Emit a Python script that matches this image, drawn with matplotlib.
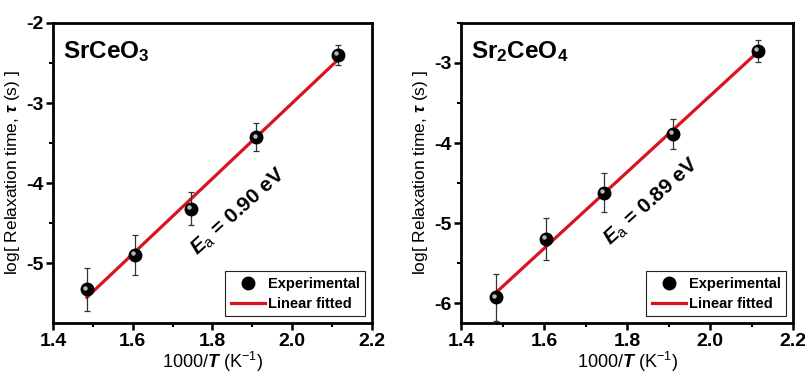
import numpy as np
import matplotlib
matplotlib.use("Agg")
import matplotlib.pyplot as plt
from matplotlib.lines import Line2D
from matplotlib.transforms import offset_copy

plt.rcParams['font.family'] = ['Liberation Sans', 'DejaVu Sans']
plt.rcParams['mathtext.fontset'] = 'custom'
plt.rcParams['mathtext.rm'] = 'Liberation Sans'
plt.rcParams['mathtext.it'] = 'Liberation Sans:italic:bold'
plt.rcParams['mathtext.bf'] = 'Liberation Sans:bold'
plt.rcParams['axes.unicode_minus'] = False

# 1000/T values (K^-1)
inv_temp = [1.485, 1.605, 1.745, 1.91, 2.115]

# log10 relaxation time and error bars
srceo3_tau = [-5.33, -4.90, -4.32, -3.43, -2.40]
srceo3_err = [0.27, 0.245, 0.21, 0.175, 0.13]
sr2ceo4_tau = [-5.93, -5.20, -4.62, -3.89, -2.85]
sr2ceo4_err = [0.29, 0.265, 0.24, 0.19, 0.14]

panel_names = [r'SrCeO$_\mathbf{3}$', r'Sr$_\mathbf{2}$CeO$_\mathbf{4}$']
ea_labels = [r'$E_\mathrm{a}$ = 0.90 eV', r'$E_\mathrm{a}$ = 0.89 eV']
ylims = [(-5.75, -2.0), (-6.25, -2.5)]
yticks = [[-5, -4, -3, -2], [-6, -5, -4, -3]]
ea_pos = [(1.865, -4.36), (1.86, -4.73)]

RED = '#d8141c'

fig = plt.figure(figsize=(8.05, 3.77), dpi=100)
axes = [fig.add_axes([0.0658, 0.1432, 0.3963, 0.7958]),
        fig.add_axes([0.5727, 0.1432, 0.4124, 0.7958])]

datasets = [(srceo3_tau, srceo3_err), (sr2ceo4_tau, sr2ceo4_err)]

for i, ax in enumerate(axes):
    y, err = datasets[i]
    x = np.array(inv_temp)
    y = np.array(y)

    # linear fit of log(tau) vs 1000/T
    k, b = np.polyfit(x, y, 1)
    xf = np.array([x.min(), x.max()])
    ax.plot(xf, k * xf + b, color=RED, lw=2.3, zorder=2)

    ax.errorbar(x, y, yerr=err, fmt='none', ecolor='#333333', elinewidth=0.9,
                capsize=2.5, capthick=0.9, zorder=3)
    ax.plot(x, y, 'o', color='black', ms=9, zorder=4)
    # small highlight for the shaded-ball look
    hl = offset_copy(ax.transData, fig=fig, x=-1.8, y=1.8, units='dots')
    ax.plot(x, y, 'o', color='#b8b8b8', ms=3.2, mec='none', transform=hl, zorder=5)

    ax.set_xlim(1.4, 2.2)
    ax.set_xticks([1.4, 1.6, 1.8, 2.0, 2.2])
    ax.set_xticks(np.arange(1.5, 2.2, 0.2), minor=True)
    ax.set_yticks(yticks[i])
    ax.set_yticks(np.array(yticks[i]) + 0.5, minor=True)
    ax.set_xticklabels(['1.4', '1.6', '1.8', '2.0', '2.2'])
    ax.set_ylim(*ylims[i])

    for s in ax.spines.values():
        s.set_linewidth(2.0)
    ax.tick_params(which='major', direction='out', length=5, width=1.8,
                   labelsize=14, pad=2)
    ax.tick_params(which='minor', direction='out', length=3, width=1.5)
    for lab in ax.get_xticklabels() + ax.get_yticklabels():
        lab.set_fontweight('bold')

    ax.set_xlabel(r'1000/$T$ (K$^{-1}$)', fontsize=13, labelpad=0)
    ax.set_ylabel(r'log[ Relaxation time, $\tau$ (s) ]', fontsize=12.5, labelpad=3)

    ax.text(0.03, 0.945, panel_names[i], transform=ax.transAxes,
            fontsize=17.5, fontweight='bold', va='top', ha='left')
    ax.text(ea_pos[i][0], ea_pos[i][1], ea_labels[i], fontsize=15,
            fontweight='bold', rotation=42, ha='center', va='center',
            rotation_mode='anchor')

    handles = [Line2D([], [], ls='none', marker='o', color='black', ms=9),
               Line2D([], [], color=RED, lw=2.3)]
    leg = ax.legend(handles, ['Experimental', 'Linear fitted'], loc='lower right',
                    fancybox=False, edgecolor='#222222', framealpha=1,
                    prop={'size': 10.5, 'weight': 'bold'}, handlelength=2.3,
                    handletextpad=0.2, borderpad=0.4, labelspacing=0.4,
                    borderaxespad=0.45, numpoints=1)
    leg.get_frame().set_linewidth(0.8)

fig.savefig('out.png', dpi=100)
